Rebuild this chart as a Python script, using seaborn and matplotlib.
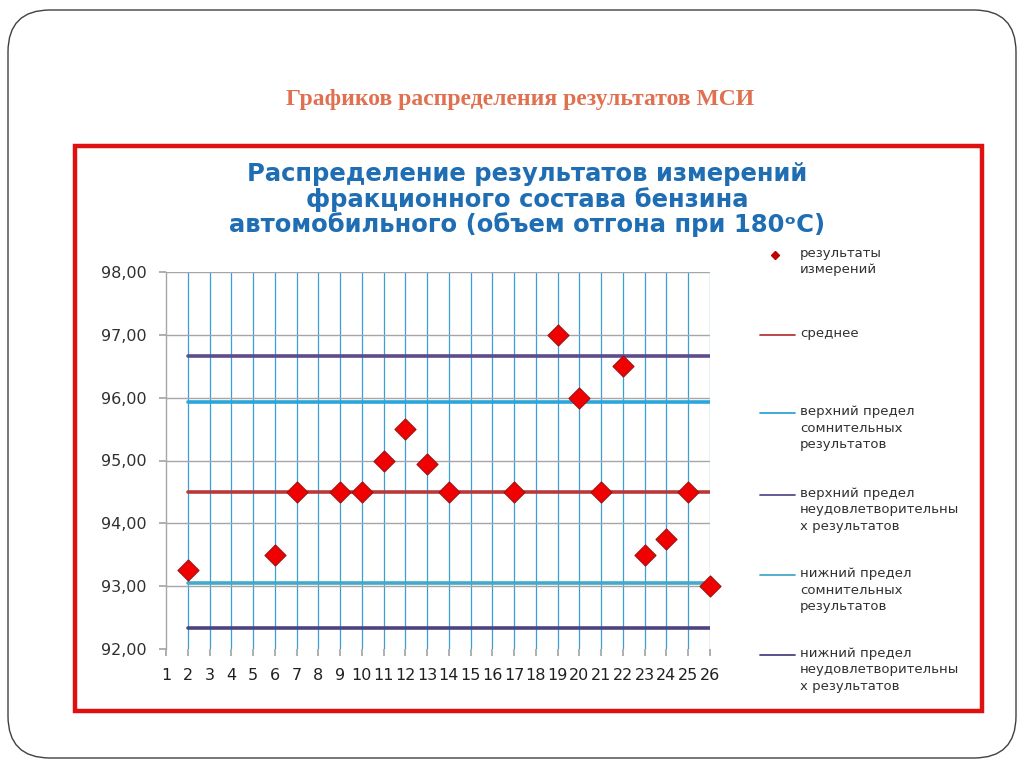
import numpy as np
import pandas as pd
import matplotlib
matplotlib.use("Agg")
import matplotlib.pyplot as plt
from matplotlib.lines import Line2D
from matplotlib.patches import FancyBboxPatch, Rectangle
import seaborn as sns

# data
lab_no = [2, 6, 7, 9, 10, 11, 12, 13, 14, 17, 19, 20, 21, 22, 23, 24, 25, 26]
results = [93.25, 93.5, 94.5, 94.5, 94.5, 95.0, 95.5, 94.95, 94.5, 94.5,
           97.0, 96.0, 94.5, 96.5, 93.5, 93.75, 94.5, 93.0]

limit_x = [2, 26]
mean_val = 94.5
upper_doubt = 95.93
upper_bad = 96.67
lower_doubt = 93.05
lower_bad = 92.33

x_ticks = list(range(1, 27))
y_ticks = [92, 93, 94, 95, 96, 97, 98]

legend_labels = [
    "результаты\nизмерений",
    "среднее",
    "верхний предел\nсомнительных\nрезультатов",
    "верхний предел\nнеудовлетворительны\nх результатов",
    "нижний предел\nсомнительных\nрезультатов",
    "нижний предел\nнеудовлетворительны\nх результатов",
]

sns.set_theme(style="white")
plt.rcParams['font.family'] = ['DejaVu Sans']

fig = plt.figure(figsize=(10.24, 7.68), dpi=100)
fig.patch.set_facecolor("white")

# slide frame (in inches so the corners stay round) and red chart frame
fig.add_artist(FancyBboxPatch((0.08, 0.10), 10.08, 7.48,
                              boxstyle="round,pad=0,rounding_size=0.42",
                              transform=fig.dpi_scale_trans, fill=False,
                              edgecolor="#404040", linewidth=1.0))
fig.add_artist(Rectangle((75 / 1024, (768 - 711) / 768), 907 / 1024, 565 / 768,
                         transform=fig.transFigure, fill=False,
                         edgecolor="#E01010", linewidth=3.2))

fig.text(0.508, 0.870, "Графиков распределения результатов МСИ",
         ha="center", va="center", fontsize=17, fontweight="bold",
         family=["Liberation Serif", "DejaVu Serif"], color="#E0704F")

fig.text(0.515, 0.740,
         "Распределение результатов измерений\nфракционного состава бензина\nавтомобильного (объем отгона при 180ᵒC)",
         ha="center", va="center", fontsize=17.5, fontweight="bold",
         color="#1F6DB3", linespacing=1.03)

ax = fig.add_axes([166 / 1024, (768 - 649) / 768, 544 / 1024, 377 / 768])

# grid
for xv in x_ticks[1:]:
    ax.axvline(xv, color="#3A9FD6", linewidth=0.9, zorder=1)
for yv in y_ticks[1:]:
    ax.axhline(yv, color="#A6A6A6", linewidth=1.0, zorder=1)

lines = pd.DataFrame({
    "x": limit_x * 5,
    "y": [mean_val] * 2 + [upper_doubt] * 2 + [upper_bad] * 2 + [lower_doubt] * 2 + [lower_bad] * 2,
    "kind": ["mean"] * 2 + ["ud"] * 2 + ["ub"] * 2 + ["ld"] * 2 + ["lb"] * 2,
})
line_colors = {"mean": "#B8393A", "ud": "#2BA6DA", "ub": "#5E4C8C",
               "ld": "#45A9C9", "lb": "#4D4380"}
sns.lineplot(data=lines, x="x", y="y", hue="kind", palette=line_colors,
             linewidth=2.6, legend=False, ax=ax, zorder=2)

pts = pd.DataFrame({"lab": lab_no, "value": results})
sns.scatterplot(data=pts, x="lab", y="value", marker="D", s=115,
                color="#F00000", edgecolor="#A01010", linewidth=0.8,
                ax=ax, zorder=3, clip_on=False)

ax.set_xlim(1, 26)
ax.set_ylim(92, 98)
ax.set_xticks(x_ticks)
ax.set_xticklabels([str(v) for v in x_ticks], fontsize=11.5, color="#202020")
ax.set_yticks(y_ticks)
ax.set_yticklabels([f"{v:.2f}".replace(".", ",") for v in y_ticks],
                   fontsize=11.5, color="#303030")
ax.tick_params(axis="y", length=5, color="#A6A6A6", pad=9, left=True)
ax.tick_params(axis="x", length=5, color="#A6A6A6", pad=9, bottom=True)
ax.set_xlabel("")
ax.set_ylabel("")
for side in ["top", "right", "bottom"]:
    ax.spines[side].set_visible(False)
ax.spines["left"].set_color("#A6A6A6")
ax.spines["left"].set_linewidth(1.0)

# legend drawn at the right
leg_y = [255, 335, 413, 495, 575, 655]
leg_colors = [None, "#B8393A", "#2BA6DA", "#5E4C8C", "#45A9C9", "#4D4380"]
for i, (lab, yy) in enumerate(zip(legend_labels, leg_y)):
    if i == 0:
        fig.add_artist(Line2D([775 / 1024], [(768 - yy) / 768], marker="D",
                              markersize=4, color="#C00000", linestyle="none",
                              transform=fig.transFigure))
    else:
        fig.add_artist(Line2D([760 / 1024, 795 / 1024], [(768 - yy) / 768] * 2,
                              color=leg_colors[i], linewidth=1.3,
                              transform=fig.transFigure))
    fig.text(800 / 1024, (768 - yy + 8) / 768, lab,
             ha="left", va="top", fontsize=9.5, color="#303030", linespacing=1.35)

fig.savefig("out.png", dpi=100)
